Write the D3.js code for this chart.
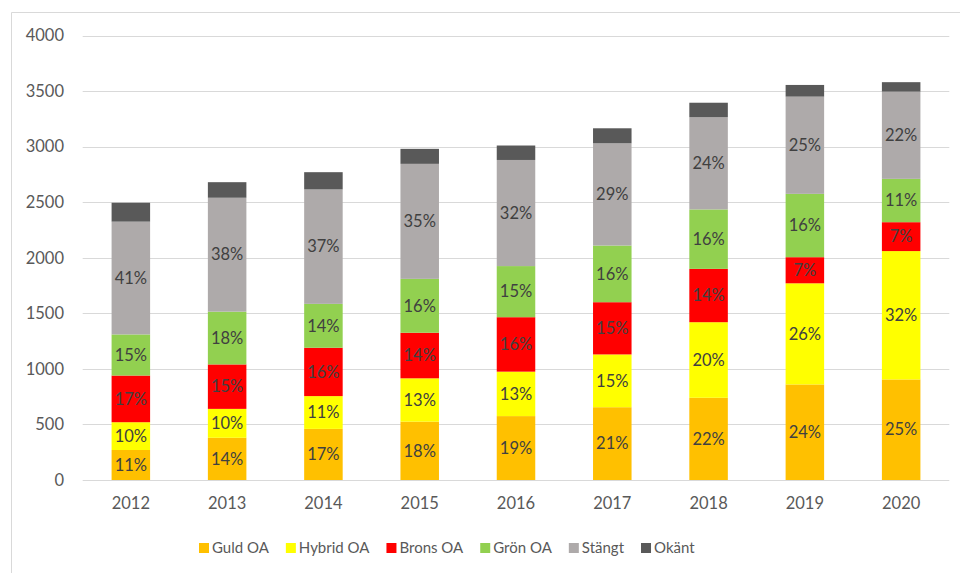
<!DOCTYPE html>
<html lang="sv">
  <head>
    <meta charset="utf-8">
    <title>Publiceringar per OA-typ</title>
    <script src="https://d3js.org/d3.v7.min.js"></script>
    <style>
      body { margin: 0; background: #fff; }
      text { font-family: Lato, "Open Sans", sans-serif; }
    </style>
  </head>

  <body>
    <svg id="chart" width="960" height="573"></svg>
    <script type="text/javascript">

      // data
      var years = ["2012", "2013", "2014", "2015", "2016", "2017", "2018", "2019", "2020"];
      var seriesNames = ["Guld OA", "Hybrid OA", "Brons OA", "Grön OA", "Stängt", "Okänt"];
      var guld   = [270, 380, 460, 525, 575, 655, 740, 860, 905];
      var hybrid = [250, 260, 295, 390, 400, 475, 680, 910, 1155];
      var brons  = [420, 400, 435, 410, 490, 470, 480, 235, 260];
      var gron   = [370, 475, 395, 485, 460, 510, 535, 570, 390];
      var stangt = [1015, 1025, 1030, 1035, 955, 920, 830, 875, 785];
      var okant  = [170, 140, 155, 135, 130, 135, 130, 105, 85];
      var yTicks = [0, 500, 1000, 1500, 2000, 2500, 3000, 3500, 4000];

      var colors = ["#ffc000", "#ffff00", "#ff0000", "#92d050", "#aeaaaa", "#595959"];
      var allSeries = [guld, hybrid, brons, gron, stangt, okant];

      // build rows for d3.stack
      var rows = years.map(function(y, i) {
        var r = { year: y, total: 0 };
        seriesNames.forEach(function(name, s) {
          r[name] = allSeries[s][i];
          r.total += allSeries[s][i];
        });
        return r;
      });

      var svg = d3.select("#chart");

      // chart frame (left + top edges only, like the screenshot)
      svg.append("path")
        .attr("d", "M11.5,573V12.5H960")
        .attr("fill", "none")
        .attr("stroke", "#d9d9d9");

      var x = d3.scaleBand()
        .domain(years)
        .range([82.7, 949.3])
        .paddingInner(0.6)
        .paddingOuter(0.3);

      var y = d3.scaleLinear()
        .domain([0, 4000])
        .range([480, 35.5]);

      // gridlines
      svg.append("g")
        .selectAll("line")
        .data(yTicks)
        .join("line")
        .attr("x1", 82.7)
        .attr("x2", 949.3)
        .attr("y1", function(d) { return Math.round(y(d)) + 0.5; })
        .attr("y2", function(d) { return Math.round(y(d)) + 0.5; })
        .attr("stroke", "#d9d9d9")
        .attr("stroke-width", 1);

      // y axis labels
      var yAxis = svg.append("g")
        .attr("transform", "translate(64,0)")
        .call(d3.axisLeft(y).tickValues(yTicks).tickFormat(d3.format("d")).tickSize(0).tickPadding(0));
      yAxis.select(".domain").remove();
      yAxis.selectAll("text")
        .attr("font-size", 16.5)
        .attr("fill", "#595959")
        .style("font-family", "Lato, sans-serif");

      // x axis labels
      var xAxis = svg.append("g")
        .attr("transform", "translate(0,480)")
        .call(d3.axisBottom(x).tickSize(0).tickPadding(17));
      xAxis.select(".domain").remove();
      xAxis.selectAll("text")
        .attr("font-size", 16.5)
        .attr("fill", "#595959")
        .style("font-family", "Lato, sans-serif");

      // stacked bars
      var stacked = d3.stack().keys(seriesNames)(rows);

      var layers = svg.append("g")
        .selectAll("g")
        .data(stacked)
        .join("g")
        .attr("fill", function(d, i) { return colors[i]; });

      layers.selectAll("rect")
        .data(function(d) { return d; })
        .join("rect")
        .attr("x", function(d) { return x(d.data.year); })
        .attr("width", x.bandwidth())
        .attr("y", function(d) { return y(d[1]); })
        .attr("height", function(d) { return y(d[0]) - y(d[1]); });

      // percentage labels (not for Okänt)
      layers.filter(function(d, i) { return i < 5; })
        .selectAll("text")
        .data(function(d) { return d; })
        .join("text")
        .attr("x", function(d) { return x(d.data.year) + x.bandwidth() / 2; })
        .attr("y", function(d) { return (y(d[0]) + y(d[1])) / 2; })
        .attr("dy", "0.35em")
        .attr("text-anchor", "middle")
        .attr("font-size", 16.5)
        .attr("fill", "#404040")
        .text(function(d) {
          return Math.round((d[1] - d[0]) / d.data.total * 100) + "%";
        });

      // legend
      var legend = svg.append("g").attr("transform", "translate(199,548)");
      var lx = 0;
      seriesNames.forEach(function(name, i) {
        var item = legend.append("g").attr("transform", "translate(" + lx + ",0)");
        item.append("rect")
          .attr("x", 0)
          .attr("y", -5)
          .attr("width", 10)
          .attr("height", 10)
          .attr("fill", colors[i]);
        var t = item.append("text")
          .attr("x", 13)
          .attr("dy", "0.35em")
          .attr("font-size", 15)
          .attr("fill", "#595959")
          .text(name);
        lx += 13 + t.node().getComputedTextLength() + 17;
      });

    </script>
  </body>
</html>
